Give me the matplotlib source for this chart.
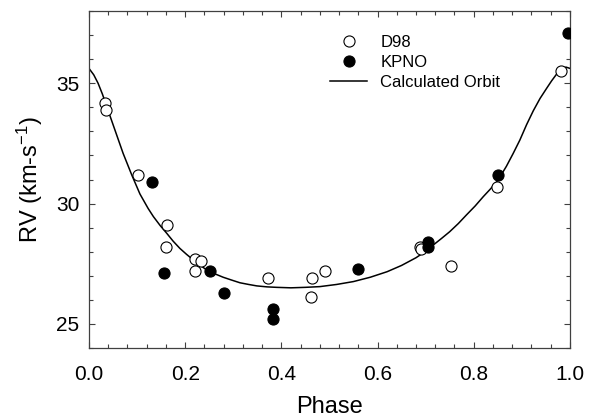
import numpy as np
import matplotlib
matplotlib.use('Agg')
import matplotlib.pyplot as plt
from matplotlib.ticker import MultipleLocator, FormatStrFormatter

plt.rcParams['font.family'] = ['Liberation Sans', 'DejaVu Sans']
plt.rcParams['mathtext.default'] = 'regular'

#### DATA
phase_d98 = [0.033, 0.035, 0.103, 0.160, 0.163, 0.220, 0.220, 0.234, 0.372,
             0.462, 0.463, 0.491, 0.689, 0.691, 0.752, 0.848, 0.981]
rv_d98 = [34.2, 33.9, 31.2, 28.2, 29.1, 27.7, 27.2, 27.6, 26.9,
          26.1, 26.9, 27.2, 28.2, 28.1, 27.4, 30.7, 35.5]

phase_kpno = [0.132, 0.157, 0.252, 0.281, 0.382, 0.383, 0.560, 0.704, 0.704, 0.851, 0.997]
rv_kpno = [30.9, 27.1, 27.2, 26.3, 25.2, 25.6, 27.3, 28.4, 28.2, 31.2, 37.1]

phase_orbit = [0.0, 0.010, 0.019, 0.028, 0.037, 0.054, 0.071, 0.089, 0.106, 0.123,
               0.134, 0.148, 0.162, 0.175, 0.189, 0.203, 0.217, 0.231, 0.245, 0.262,
               0.279, 0.297, 0.314, 0.332, 0.349, 0.37, 0.39, 0.42, 0.45, 0.48,
               0.515, 0.55, 0.585, 0.62, 0.65, 0.68, 0.698, 0.716, 0.733, 0.75,
               0.768, 0.785, 0.803, 0.82, 0.834, 0.848, 0.858, 0.868, 0.882, 0.896,
               0.910, 0.924, 0.938, 0.952, 0.962, 0.972, 0.979, 0.985, 0.992, 1.0]
rv_orbit = [35.62, 35.35, 35.0, 34.55, 34.03, 33.06, 32.09, 31.19, 30.40, 29.80,
            29.46, 29.09, 28.76, 28.44, 28.14, 27.89, 27.66, 27.44, 27.24, 27.08,
            26.94, 26.82, 26.71, 26.64, 26.58, 26.54, 26.52, 26.50, 26.52, 26.55,
            26.64, 26.76, 26.94, 27.17, 27.43, 27.75, 27.99, 28.28, 28.55, 28.83,
            29.17, 29.53, 29.90, 30.29, 30.59, 30.91, 31.22, 31.55, 32.08, 32.64,
            33.28, 33.86, 34.37, 34.80, 35.10, 35.37, 35.53, 35.63, 35.67, 35.62]

#### PLOT
fig = plt.figure(figsize=(5.93, 4.18), dpi=100)
ax = fig.add_axes([0.150, 0.1675, 0.811, 0.806])

ax.plot(phase_d98, rv_d98, 'o', mfc='white', mec='black', mew=0.8, ms=8, label='D98', zorder=3)
ax.plot(phase_kpno, rv_kpno, 'o', mfc='black', mec='black', mew=0.8, ms=8, label='KPNO', zorder=4)
ax.plot(phase_orbit, rv_orbit, '-', color='black', lw=1.1, label='Calculated Orbit', zorder=2)

ax.set_xlim(0, 1.0)
ax.set_ylim(24, 38)
ax.xaxis.set_major_locator(MultipleLocator(0.2))
ax.xaxis.set_minor_locator(MultipleLocator(0.04))
ax.yaxis.set_major_locator(MultipleLocator(5))
ax.yaxis.set_minor_locator(MultipleLocator(1))
ax.xaxis.set_major_formatter(FormatStrFormatter('%.1f'))

ax.tick_params(which='both', direction='in', top=True, right=True, color='#404040', width=0.8)
ax.tick_params(which='major', length=4, labelsize=15)
ax.tick_params(which='minor', length=3)
ax.tick_params(axis='x', which='major', pad=12)
ax.tick_params(axis='y', which='major', pad=7)
for s in ax.spines.values():
    s.set_color('#404040')
    s.set_linewidth(0.9)

ax.set_xlabel('Phase', fontsize=17, labelpad=9)
ax.set_ylabel('RV (km-s$^{-1}$)', fontsize=17, labelpad=8)

ax.legend(loc='upper left', bbox_to_anchor=(0.478, 0.965), frameon=False, fontsize=12,
          handlelength=2.2, handletextpad=0.8, labelspacing=0.32, borderpad=0.2)

plt.savefig('out.png', dpi=100)
